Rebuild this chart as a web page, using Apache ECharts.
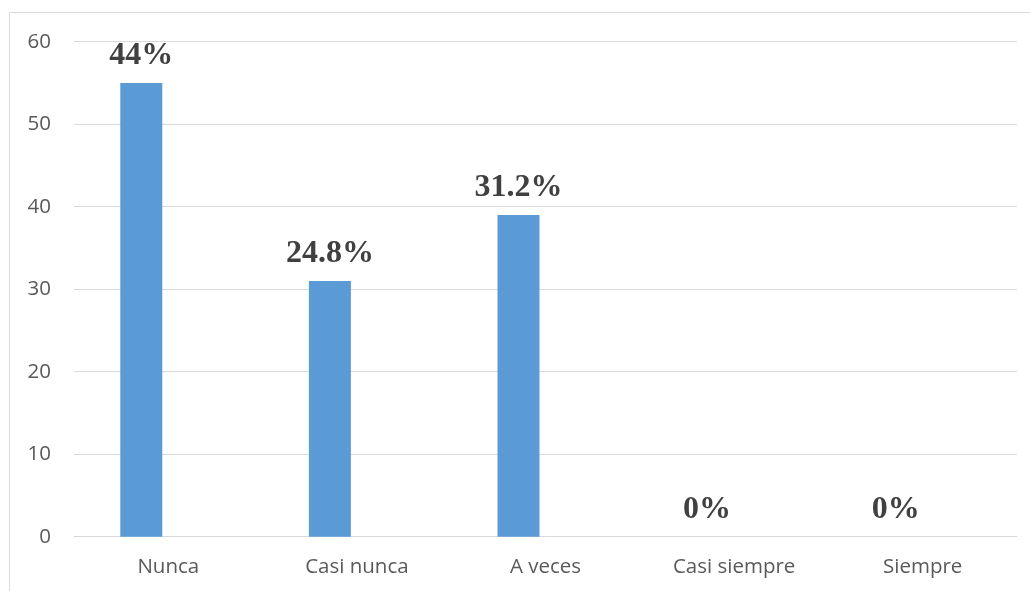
<!DOCTYPE html>
<html>
<head>
<meta charset="utf-8">
<script src="https://cdn.jsdelivr.net/npm/echarts@6/dist/echarts.min.js"></script>
<style>html,body{margin:0;padding:0;background:#fff}#c{width:1030px;height:591px}</style>
</head>
<body>
<div id="c"></div>
<script>
const categories = ['Nunca', 'Casi nunca', 'A veces', 'Casi siempre', 'Siempre'];
const values = [55, 31, 39, 0, 0];
const pctLabels = ['44%', '24.8%', '31.2%', '0%', '0%'];
const emptySeries = [null, null, null, null, null];
const yTicks = {min: 0, max: 60, interval: 10};

const chart = echarts.init(document.getElementById('c'));
chart.setOption({
  animation: false,
  backgroundColor: '#fff',
  graphic: [{
    type: 'rect',
    shape: {x: 9.5, y: 12.5, width: 1100, height: 700},
    style: {fill: 'none', stroke: '#d9d9d9', lineWidth: 1},
    silent: true
  }],
  grid: {left: 74, right: 13, top: 41.7, bottom: 54.3},
  xAxis: {
    type: 'category',
    data: categories,
    axisLine: {show: true, lineStyle: {color: '#d9d9d9', width: 1}},
    axisTick: {show: false},
    axisLabel: {color: '#595959', fontFamily: 'Open Sans', fontSize: 20.5, margin: 20}
  },
  yAxis: {
    type: 'value',
    min: yTicks.min, max: yTicks.max, interval: yTicks.interval,
    axisLine: {show: false},
    axisTick: {show: false},
    splitLine: {lineStyle: {color: '#d9d9d9', width: 1}},
    axisLabel: {color: '#595959', fontFamily: 'Open Sans', fontSize: 20.5, margin: 23}
  },
  series: [{
    type: 'bar',
    data: values,
    barWidth: 42,
    barGap: '28.6%',
    itemStyle: {color: '#5b9bd5'},
    label: {
      show: true,
      position: 'top',
      distance: 11,
      formatter: p => pctLabels[p.dataIndex],
      fontFamily: 'Liberation Serif',
      fontWeight: 'bold',
      fontSize: 32,
      color: '#404040'
    }
  }, {
    type: 'bar',
    data: emptySeries,
    barWidth: 42,
    itemStyle: {color: '#ed7d31'}
  }]
});
</script>
</body>
</html>
